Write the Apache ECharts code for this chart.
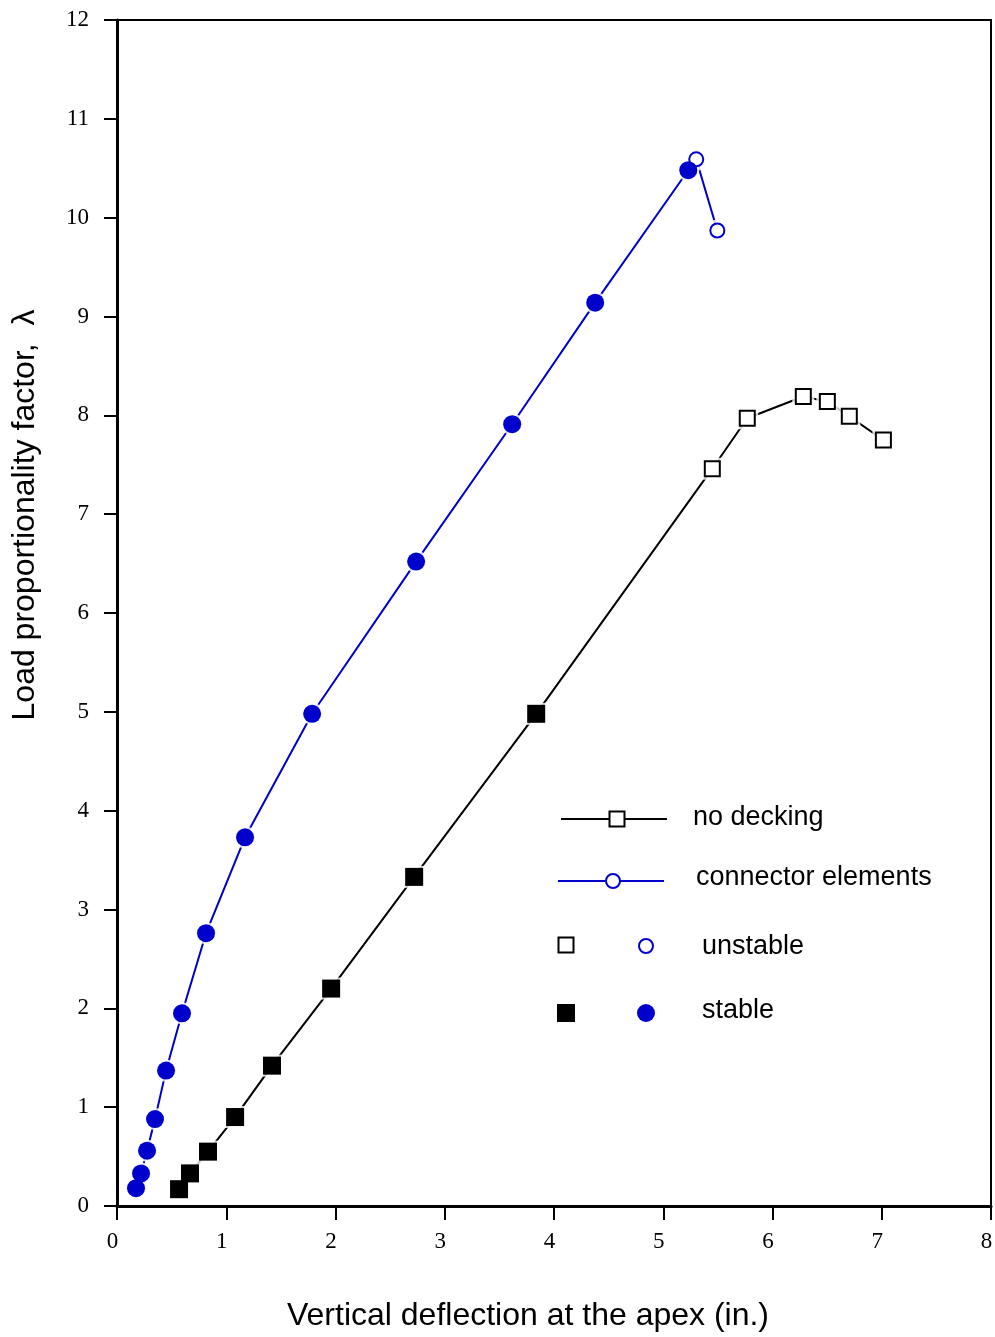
<!DOCTYPE html>
<html>
<head>
<meta charset="utf-8">
<style>
  html, body { margin: 0; padding: 0; background: #fff; overflow: hidden; }
  #chart { width: 995px; height: 1337px; }
</style>
<script src="https://cdn.jsdelivr.net/npm/echarts@6/dist/echarts.min.js"></script>
</head>
<body>
<div id="chart"></div>
<script>
// Connector elements: vertical deflection (in.) vs load factor
const connX = [0.174, 0.22, 0.275, 0.348, 0.449, 0.595, 0.815, 1.172, 1.786, 2.738, 3.617, 4.377, 5.229, 5.302, 5.495];
const connY = [0.18, 0.33, 0.56, 0.88, 1.37, 1.95, 2.76, 3.73, 4.98, 6.52, 7.91, 9.14, 10.48, 10.59, 9.87];
const connState = ['s', 's', 's', 's', 's', 's', 's', 's', 's', 's', 's', 's', 's', 'u', 'u'];

// No decking
const decX = [0.568, 0.668, 0.833, 1.081, 1.419, 1.96, 2.72, 3.837, 5.449, 5.769, 6.282, 6.502, 6.703, 7.015];
const decY = [0.17, 0.33, 0.55, 0.90, 1.42, 2.20, 3.33, 4.98, 7.46, 7.97, 8.19, 8.14, 7.99, 7.75];
const decState = ['s', 's', 's', 's', 's', 's', 's', 's', 'u', 'u', 'u', 'u', 'u', 'u'];

const xTicks = [0, 1, 2, 3, 4, 5, 6, 7, 8];
const yTicks = [0, 1, 2, 3, 4, 5, 6, 7, 8, 9, 10, 11, 12];

const BLUE = '#0000cc';
const BLACK = '#000000';

function points(xs, ys, states, keep) {
  const out = [];
  for (let i = 0; i < xs.length; i++) {
    if (!keep || states[i] === keep) out.push([xs[i], ys[i]]);
  }
  return out;
}

const chart = echarts.init(document.getElementById('chart'), null, { renderer: 'canvas' });

const tickLabel = { fontFamily: 'Liberation Serif', fontSize: 23, color: BLACK };

// line, white halo under markers, open (unstable) markers, filled (stable) markers
function curveSeries(name, xs, ys, states, color, shape, zBase) {
  return [
    {
      name: name, type: 'line', data: points(xs, ys, states),
      symbol: 'none', lineStyle: { color: color, width: 2 }, z: zBase, silent: true
    },
    {
      type: 'scatter', data: points(xs, ys, states), symbol: shape,
      symbolSize: 22,
      itemStyle: { color: '#ffffff' }, z: zBase + 1, silent: true
    },
    {
      type: 'scatter', data: points(xs, ys, states, 'u'), symbol: shape,
      symbolSize: shape === 'rect' ? 15 : 14,
      itemStyle: { color: '#ffffff', borderColor: color, borderWidth: 2, opacity: 1 },
      z: zBase + 2, silent: true
    },
    {
      type: 'scatter', data: points(xs, ys, states, 's'), symbol: shape,
      symbolSize: 18,
      itemStyle: { color: color, opacity: 1 }, z: zBase + 3, silent: true
    }
  ];
}

const option = {
  backgroundColor: '#ffffff',
  animation: false,
  grid: {
    left: 117, right: 4, top: 20, bottom: 131,
    containLabel: false, outerBoundsMode: 'none',
    show: true, borderColor: BLACK, borderWidth: 2, backgroundColor: 'transparent'
  },
  xAxis: {
    type: 'value', min: xTicks[0], max: xTicks[xTicks.length - 1], interval: 1,
    axisLine: { show: true, lineStyle: { color: BLACK, width: 3 } },
    axisTick: { show: true, inside: false, length: 14, lineStyle: { color: BLACK, width: 2 } },
    splitLine: { show: false },
    axisLabel: Object.assign({ margin: 24, padding: [0, 9, 0, 0], showMinLabel: true, showMaxLabel: true }, tickLabel)
  },
  yAxis: {
    type: 'value', min: yTicks[0], max: yTicks[yTicks.length - 1], interval: 1,
    axisLine: { show: true, lineStyle: { color: BLACK, width: 3 } },
    axisTick: { show: true, inside: false, length: 13, lineStyle: { color: BLACK, width: 2 } },
    splitLine: { show: false },
    axisLabel: Object.assign({ margin: 28, showMinLabel: true, showMaxLabel: true }, tickLabel)
  },
  series: [].concat(
    curveSeries('no decking', decX, decY, decState, BLACK, 'rect', 10),
    curveSeries('connector elements', connX, connY, connState, BLUE, 'circle', 20)
  ),
  graphic: [
    // axis titles
    {
      type: 'text', x: 528, y: 1316,
      style: { text: 'Vertical deflection at the apex (in.)', font: '32px "Liberation Sans"', fill: BLACK, align: 'center', verticalAlign: 'middle' }
    },
    {
      type: 'text', x: 25, y: 515, rotation: Math.PI / 2,
      style: { text: 'Load proportionality factor,  \u03bb', font: '32px "Liberation Sans"', fill: BLACK, align: 'center', verticalAlign: 'middle' }
    },
    // key: no decking
    { type: 'line', shape: { x1: 561, y1: 819, x2: 667, y2: 819 }, style: { stroke: BLACK, lineWidth: 2 }, z: 100 },
    { type: 'rect', shape: { x: 617 - 7.5, y: 819 - 7.5, width: 15, height: 15 }, style: { fill: '#fff', stroke: BLACK, lineWidth: 2 }, z: 101 },
    { type: 'text', x: 693, y: 818, style: { text: 'no decking', font: '27px "Liberation Sans"', fill: BLACK, verticalAlign: 'middle' }, z: 101 },
    // key: connector elements
    { type: 'line', shape: { x1: 558, y1: 881, x2: 664, y2: 881 }, style: { stroke: BLUE, lineWidth: 2 }, z: 100 },
    { type: 'circle', shape: { cx: 613, cy: 881, r: 7 }, style: { fill: '#fff', stroke: BLUE, lineWidth: 2 }, z: 101 },
    { type: 'text', x: 696, y: 878, style: { text: 'connector elements', font: '27px "Liberation Sans"', fill: BLACK, verticalAlign: 'middle' }, z: 101 },
    // key: unstable
    { type: 'rect', shape: { x: 566 - 7.5, y: 945 - 7.5, width: 15, height: 15 }, style: { fill: '#fff', stroke: BLACK, lineWidth: 2 }, z: 101 },
    { type: 'circle', shape: { cx: 646, cy: 946, r: 7 }, style: { fill: '#fff', stroke: BLUE, lineWidth: 2 }, z: 101 },
    { type: 'text', x: 702, y: 947, style: { text: 'unstable', font: '27px "Liberation Sans"', fill: BLACK, verticalAlign: 'middle' }, z: 101 },
    // key: stable
    { type: 'rect', shape: { x: 566 - 9, y: 1013 - 9, width: 18, height: 18 }, style: { fill: BLACK }, z: 101 },
    { type: 'circle', shape: { cx: 646, cy: 1013, r: 9 }, style: { fill: BLUE }, z: 101 },
    { type: 'text', x: 702, y: 1011, style: { text: 'stable', font: '27px "Liberation Sans"', fill: BLACK, verticalAlign: 'middle' }, z: 101 }
  ]
};

chart.setOption(option);
</script>
</body>
</html>
